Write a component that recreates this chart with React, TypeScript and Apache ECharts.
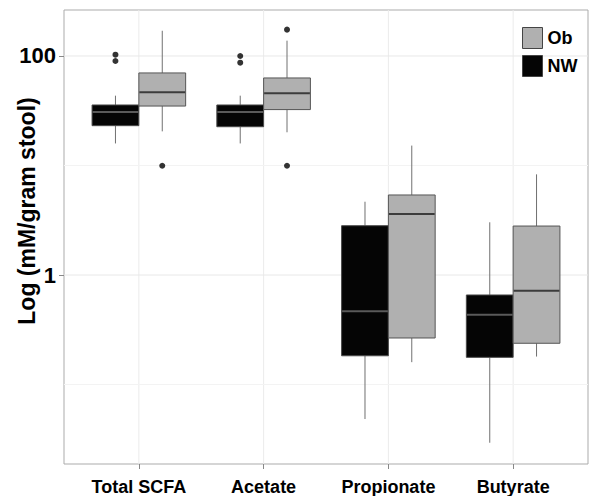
import React, { useEffect, useRef } from "react";
import * as echarts from "echarts";

const categories = ["Total SCFA", "Acetate", "Propionate", "Butyrate"];
const groups = ["NW", "Ob"];

// [lower whisker, Q1, median, Q3, upper whisker]
const nwBoxes = [
  [15.9, 23.1, 30.8, 35.7, 43.4],
  [15.9, 22.6, 30.8, 35.7, 43.4],
  [0.0484, 0.183, 0.466, 2.82, 4.67],
  [0.0294, 0.177, 0.434, 0.657, 3.03],
];
const obBoxes = [
  [20.5, 34.9, 46.6, 70, 170],
  [20.1, 32.4, 45.6, 63, 138],
  [0.16, 0.266, 3.61, 5.38, 15.2],
  [0.18, 0.238, 0.719, 2.8, 8.3],
];
// outliers: [category index, value]
const nwOutliers = [
  [0, 102.7],
  [0, 90.0],
  [1, 100.0],
  [1, 86.9],
];
const obOutliers = [
  [0, 9.95],
  [1, 174],
  [1, 9.95],
];
const yTickLabels = [1, 100];
const yMajorGrid = [1, 100];
const yMinorGrid = [0.1, 10];

const FONT = "'Liberation Sans', Arial, Helvetica, sans-serif";
const DODGE = 0.1875;
const HALF = 0.1875;

const styles: Record<string, any> = {
  NW: { fill: "#050505", border: "#4a4a4a", median: "#5a5a5a", whisker: "#707070" },
  Ob: { fill: "#b0b0b0", border: "#555555", median: "#3c3c3c", whisker: "#707070" },
};

function boxSeries(name: string, boxes: number[][], offset: number) {
  const st = styles[name];
  return {
    name,
    type: "custom",
    z: 3,
    itemStyle: { color: st.fill, borderColor: st.border, borderWidth: 1 },
    encode: { x: 0, y: [1, 2, 3, 4, 5] },
    data: boxes.map((b, i) => [i + offset, ...b]),
    renderItem: (params: any, api: any) => {
      const x = api.value(0);
      const lo = api.value(1);
      const q1 = api.value(2);
      const med = api.value(3);
      const q3 = api.value(4);
      const hi = api.value(5);
      const xL = api.coord([x - HALF, med])[0];
      const xR = api.coord([x + HALF, med])[0];
      const cx = api.coord([x, med])[0];
      const yLo = api.coord([x, lo])[1];
      const yQ1 = api.coord([x, q1])[1];
      const yMed = api.coord([x, med])[1];
      const yQ3 = api.coord([x, q3])[1];
      const yHi = api.coord([x, hi])[1];
      return {
        type: "group",
        children: [
          { type: "line", shape: { x1: cx, y1: yHi, x2: cx, y2: yQ3 }, style: { stroke: st.whisker, lineWidth: 1 } },
          { type: "line", shape: { x1: cx, y1: yQ1, x2: cx, y2: yLo }, style: { stroke: st.whisker, lineWidth: 1 } },
          {
            type: "rect",
            shape: { x: xL, y: yQ3, width: xR - xL, height: yQ1 - yQ3 },
            style: { fill: st.fill, stroke: st.border, lineWidth: 1 },
          },
          { type: "line", shape: { x1: xL + 0.5, y1: yMed, x2: xR - 0.5, y2: yMed }, style: { stroke: st.median, lineWidth: 2 } },
        ],
      };
    },
  };
}

function hGridSeries(name: string, values: number[], color: string) {
  return {
    type: "custom",
    name,
    z: 1,
    silent: true,
    data: values.map((v) => [0, v]),
    encode: { x: 0, y: 1 },
    renderItem: (params: any, api: any) => {
      const cs = params.coordSys;
      const y = api.coord([0, api.value(1)])[1];
      return {
        type: "line",
        shape: { x1: cs.x, y1: y, x2: cs.x + cs.width, y2: y },
        style: { stroke: color, lineWidth: 1 },
      };
    },
  };
}

export default function App() {
  const ref = useRef<HTMLDivElement>(null);
  useEffect(() => {
    if (!ref.current) return;
    const chart = echarts.init(ref.current, null, { renderer: "svg" });
    const option: any = {
      animation: false,
      backgroundColor: "#ffffff",
      grid: {
        left: 64,
        top: 10,
        right: 1,
        bottom: 32,
        show: true,
        borderColor: "#ababab",
        borderWidth: 1,
        backgroundColor: "transparent",
      },
      legend: {
        data: ["Ob", "NW"],
        orient: "vertical",
        left: 517,
        top: 22,
        itemWidth: 20,
        itemHeight: 21,
        itemGap: 6,
        icon: "rect",
        itemStyle: { borderColor: "#444", borderWidth: 1 },
        textStyle: { fontFamily: FONT, fontSize: 18, fontWeight: "bold", color: "#000" },
      },
      xAxis: {
        type: "value",
        min: -0.6,
        max: 3.6,
        splitLine: { show: false },
        axisLine: { show: false, onZero: false },
        axisTick: {
          show: true,
          customValues: categories.map((_, i) => i),
          length: 5,
          lineStyle: { color: "#888" },
        },
        axisLabel: {
          customValues: categories.map((_, i) => i),
          formatter: (v: number) => categories[Math.round(v)] ?? "",
          fontFamily: FONT,
          fontSize: 18,
          fontWeight: "bold",
          color: "#000",
          margin: 14,
        },
      },
      yAxis: {
        type: "log",
        logBase: 10,
        min: 0.0188,
        max: 263,
        axisLine: { show: false, onZero: false },
        axisTick: {
          show: true,
          customValues: yTickLabels,
          length: 5,
          lineStyle: { color: "#888" },
        },
        axisLabel: {
          customValues: yTickLabels,
          formatter: (v: number) => String(Math.round(v)),
          fontFamily: FONT,
          fontSize: 22,
          fontWeight: "bold",
          color: "#000",
          margin: 8,
        },
        splitLine: { show: false },
      },
      graphic: [
        {
          type: "text",
          x: 27,
          y: 211,
          rotation: Math.PI / 2,
          style: {
            text: "Log (mM/gram stool)",
            font: `bold 23px ${FONT}`,
            fill: "#000",
            textAlign: "center",
            textVerticalAlign: "middle",
          },
        },
      ],
      series: [
        {
          type: "custom",
          name: "vgrid",
          z: 1,
          silent: true,
          data: categories.map((_, i) => [i, 1]),
          encode: { x: 0, y: 1 },
          renderItem: (params: any, api: any) => {
            const cs = params.coordSys;
            const x = api.coord([api.value(0), 1])[0];
            return {
              type: "line",
              shape: { x1: x, y1: cs.y, x2: x, y2: cs.y + cs.height },
              style: { stroke: "#ebebeb", lineWidth: 1 },
            };
          },
        },
        hGridSeries("hgridMajor", yMajorGrid, "#e8e8e8"),
        hGridSeries("hgridMinor", yMinorGrid, "#f3f3f3"),
        boxSeries("NW", nwBoxes, -DODGE),
        boxSeries("Ob", obBoxes, DODGE),
        {
          type: "scatter",
          name: "outliersNW",
          z: 4,
          symbol: "circle",
          symbolSize: 6,
          itemStyle: { color: "#000" },
          data: nwOutliers.map(([i, v]) => [i - DODGE, v]),
        },
        {
          type: "scatter",
          name: "outliersOb",
          z: 4,
          symbol: "circle",
          symbolSize: 6,
          itemStyle: { color: "#000" },
          data: obOutliers.map(([i, v]) => [i + DODGE, v]),
        },
      ],
    };
    chart.setOption(option);
    return () => chart.dispose();
  }, []);
  return (
    <div
      ref={ref}
      style={{ position: "fixed", left: 0, top: 0, width: 589, height: 496 }}
    />
  );
}
